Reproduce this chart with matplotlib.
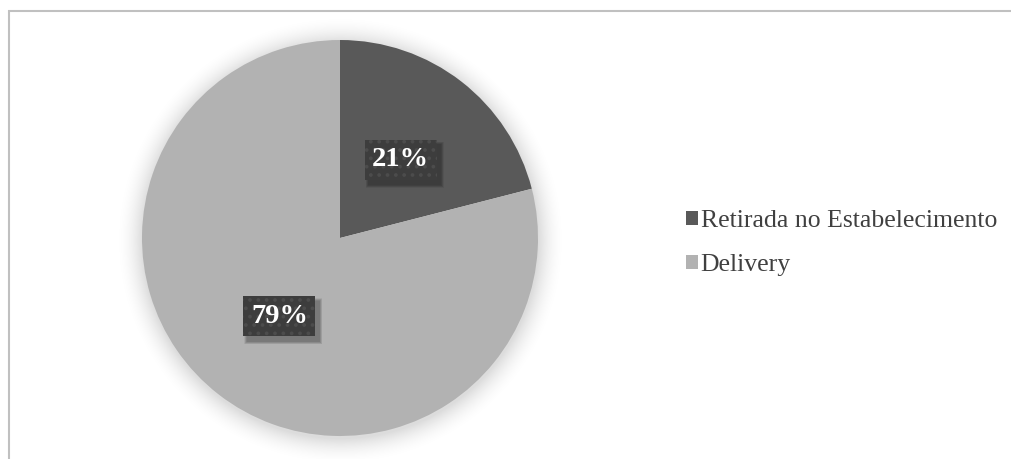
import numpy as np
import matplotlib.pyplot as plt
from matplotlib.patches import Rectangle
from matplotlib.transforms import IdentityTransform

categorias = ['Retirada no Estabelecimento', 'Delivery']
valores = [21, 79]
cores = ['#595959', '#b2b2b2']

W, H = 1011, 459
fig = plt.figure(figsize=(W / 100, H / 100), dpi=100)
fig.patch.set_facecolor('white')

# fundo em coordenadas de pixel: moldura e sombra do gráfico
bg = fig.add_axes([0, 0, 1, 1], zorder=0)
bg.set_xlim(0, W)
bg.set_ylim(H, 0)
bg.axis('off')
bg.plot([8, W], [10.5, 10.5], color='#c0c0c0', lw=1.5, solid_capstyle='butt')
bg.plot([8.5, 8.5], [10, H], color='#c0c0c0', lw=1.5, solid_capstyle='butt')

cx, cy, raio = 340, 238, 198
yy, xx = np.mgrid[0:H, 0:W]
d = np.hypot(xx - cx, yy - cy - 2) - raio
alpha = np.clip(1 - d / 28, 0, 1) ** 2 * 0.14
sombra = np.zeros((H, W, 4))
sombra[..., 3] = alpha
bg.imshow(sombra, extent=(0, W, H, 0), interpolation='bilinear', zorder=1)

# pizza
ax = fig.add_axes([(cx - raio) / W, (H - cy - raio) / H, 2 * raio / W, 2 * raio / H],
                  zorder=2)
ax.patch.set_alpha(0)
fatias, _, rotulos = ax.pie(valores, colors=cores, startangle=90, counterclock=False,
                            autopct='%1.0f%%', pctdistance=0.5, radius=1,
                            wedgeprops={'linewidth': 0})
ax.set_xlim(-1, 1)
ax.set_ylim(-1, 1)
ax.set_aspect('auto')

plt.rcParams['hatch.linewidth'] = 1.5
for t in rotulos:
    t.set_color('white')
    t.set_fontfamily('Liberation Serif')
    t.set_fontweight('bold')
    t.set_fontsize(20.5)
    t.set_zorder(5)
    t.set_bbox(dict(boxstyle='square,pad=0.26', facecolor='#3d3d3d',
                    edgecolor='#4c4c4c', linewidth=0, hatch='..'))

# sombra suave atrás das caixas dos rótulos
fig.canvas.draw()
for t in rotulos:
    bb = t.get_bbox_patch().get_window_extent()
    for k in range(6):
        e = 6 - k
        ax.add_patch(Rectangle((bb.x0 + 4 - e / 2, bb.y0 - 5 - e / 2),
                               bb.width + e, bb.height + e,
                               transform=IdentityTransform(), facecolor='black',
                               edgecolor='none', alpha=0.06, zorder=3))

leg = fig.legend(fatias, categorias, loc='upper left',
                 bbox_to_anchor=(686 / W, 1 - 210 / H), frameon=False,
                 prop={'family': 'Liberation Serif', 'size': 18.5},
                 handlelength=0.45, handleheight=0.45, handletextpad=0.12,
                 labelspacing=0.85, borderpad=0, borderaxespad=0)
for t in leg.get_texts():
    t.set_color('#404040')

fig.savefig('out.png', dpi=100)
